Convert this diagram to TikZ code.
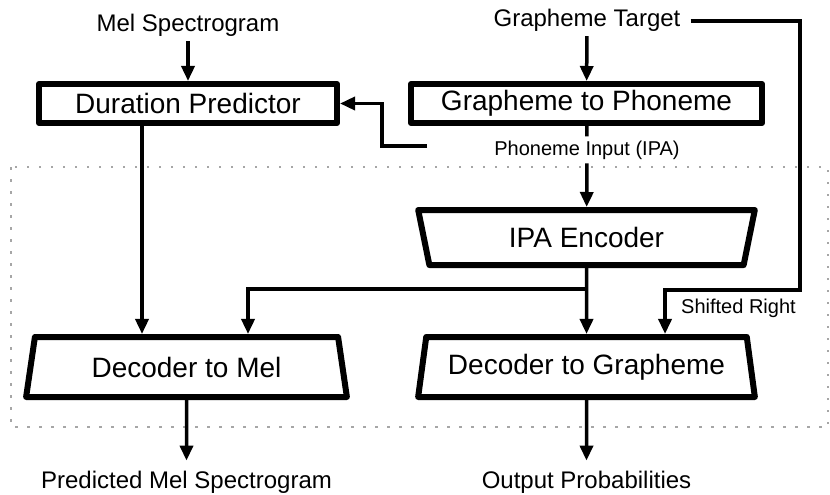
\documentclass[tikz,border=0pt]{standalone}
\usepackage{fontspec}
\setmainfont{Liberation Sans}
\usepackage{tikz}
\usetikzlibrary{arrows.meta,shapes.geometric}

\tikzset{
  blockbox/.style={draw, line width=6pt, line join=round, inner sep=0pt,
    minimum height=39pt, font=\fontsize{28}{32}\selectfont},
  trap/.style={draw, line width=6pt, line join=round, inner sep=0pt,
    trapezium, trapezium stretches=true, trapezium left angle=75,
    trapezium right angle=75, font=\fontsize{28}{32}\selectfont},
  lbl/.style={inner sep=4pt, font=\fontsize{24}{28}\selectfont},
  small/.style={inner sep=4pt, font=\fontsize{20}{24}\selectfont},
  conn/.style={line width=3.5pt, -{Triangle[length=15pt,width=13pt]}},
  wire/.style={line width=3.5pt},
  frame/.style={draw=black!35, line width=2.5pt, dash pattern=on 2.5pt off 9.5pt},
}

\begin{document}
\begin{tikzpicture}[x=1pt,y=-1pt]
\useasboundingbox (0,0) rectangle (830,495);
\draw[frame] (11,167) rectangle (828,427);

\node at (188,32) (mel)[lbl, anchor=base]{Mel Spectrogram};
\node at (587,27) (gt)[lbl, anchor=base]{Grapheme Target};
\node at (188,103.5) (dur)[blockbox, minimum width=298pt]{Duration Predictor};
\node at (586.5,103.5) (g2p)[blockbox, minimum width=351pt]{Grapheme to Phoneme};
\node at (587,155) (phon)[small, anchor=base]{Phoneme Input (IPA)};
\coordinate (phonend) at (427,146);
\node at (586.5,237.5) (ipa)[trap, shape border rotate=180, minimum width=337pt, minimum height=55pt]{IPA Encoder};
\node at (186.5,367) (d2m)[trap, minimum width=321pt, minimum height=60pt]{Decoder to Mel};
\node at (586.5,367) (d2g)[trap, minimum width=337pt, minimum height=60pt]{Decoder to Grapheme};
\node at (681,313) (shift)[small, inner sep=0pt, anchor=base west]{Shifted Right};
\coordinate (rcorner) at (800,290);
\node at (186.5,488) (pred)[lbl, anchor=base, outer sep=6pt]{Predicted Mel Spectrogram};
\node at (586.5,488) (out)[lbl, anchor=base, outer sep=6pt]{Output Probabilities};

% top inputs
\draw[conn] (mel) -- (dur);
\draw[conn] (gt) -- (g2p);
\draw[wire] (g2p) -- (phon);
\draw[conn] (phon) -- (ipa);
\draw[conn] (phonend) -- ++(-45,0) |- (dur.east);
\draw[conn] ([xshift=-46pt]dur.south) -- ([xshift=-46pt]dur.south |- d2m.north);

% encoder to decoders
\draw[conn] (ipa) -- (d2g);
\draw[conn] ([yshift=-21pt]ipa.south) -| ([xshift=61.5pt]d2m.north);
\draw[conn] ([xshift=6pt]gt.east) -| (rcorner) -| ([xshift=78.5pt]d2g.north);

% outputs
\draw[conn] (d2m) -- (pred);
\draw[conn] (d2g) -- (out);
\end{tikzpicture}
\end{document}
